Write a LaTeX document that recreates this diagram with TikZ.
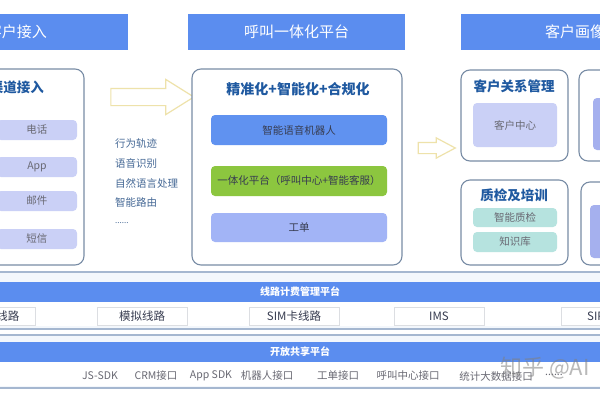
\documentclass[tikz,border=0pt]{standalone}
\usepackage{fontspec}
\setmainfont{Noto Sans CJK SC}
\usetikzlibrary{shapes.arrows}
\definecolor{hdr}{RGB}{91,141,239}
\definecolor{panelc}{RGB}{120,140,165}
\definecolor{ttlc}{RGB}{31,89,160}
\definecolor{purp}{RGB}{202,208,246}
\definecolor{purp2}{RGB}{165,176,238}
\definecolor{midblue}{RGB}{96,146,240}
\definecolor{grn}{RGB}{140,198,63}
\definecolor{gongdan}{RGB}{162,180,246}
\definecolor{teal}{RGB}{182,227,223}
\definecolor{arrc}{RGB}{238,226,170}
\definecolor{listc}{RGB}{70,105,150}
\definecolor{itemtxt}{RGB}{105,105,115}
\definecolor{darktxt}{RGB}{55,60,80}
\definecolor{sepc}{RGB}{165,183,208}
\definecolor{bandbg}{RGB}{243,247,252}
\definecolor{boxc}{RGB}{220,222,226}
\begin{document}
\begin{tikzpicture}[x=1pt,y=-1pt,
  hdrbox/.style={fill=hdr, text=white, inner sep=0, font=\fontsize{15}{15}\selectfont},
  panel/.style={draw=panelc, line width=1.1pt, rounded corners=9pt, fill=white, inner sep=0},
  ttl/.style={text=ttlc, inner sep=0, font=\bfseries\fontsize{13.5}{14}\selectfont},
  item/.style={rounded corners=4pt, inner sep=0, font=\fontsize{10.5}{11}\selectfont},
  litem/.style={item, fill=purp, text=itemtxt, minimum width=80pt, minimum height=20pt},
  listtxt/.style={anchor=west, inner sep=0, text=listc, font=\fontsize{10.5}{11}\selectfont},
  bigarrow/.style={single arrow, draw=arrc, line width=1.2pt, fill=white, inner sep=0},
  bar/.style={fill=hdr, text=white, inner sep=0, minimum width=620pt, minimum height=20pt, font=\bfseries\fontsize{10}{10}\selectfont},
  band/.style={fill=bandbg, inner sep=0, minimum width=620pt},
  lbox/.style={draw=boxc, line width=0.8pt, fill=white, inner sep=0, minimum width=90pt, minimum height=18pt, text=darktxt, font=\fontsize{11.5}{12}\selectfont},
  btxt/.style={inner sep=0, text=itemtxt, font=\fontsize{10.5}{11}\selectfont}
]
\useasboundingbox (0,0) rectangle (600,400);
\clip (0,0) rectangle (600,400);
\fill[white] (0,0) rectangle (600,400);

% headers
\node[hdrbox, minimum width=222pt, minimum height=36pt] (hL) at (17,32) {客户接入};
\node[hdrbox, minimum width=217pt, minimum height=36pt] (hM) at (296.5,32) {呼叫一体化平台};
\node[hdrbox, minimum width=228pt, minimum height=36pt] (hR) at (575,32) {客户画像};

% left panel
\node[panel, minimum width=96pt, minimum height=196pt] (pL) at (36,167) {};
\node[ttl] (tL) at (17,87) {渠道接入};
\node[litem] (l1) at (37,130) {电话};
\node[litem] (l2) at (37,167) {App};
\node[litem] (l3) at (37,201) {邮件};
\node[litem] (l4) at (37,239) {短信};

% big arrow
\node[bigarrow, minimum height=83pt, minimum width=34pt, single arrow head extend=9pt, single arrow tip angle=64] (a1) at (145.5,97) {\rule{0pt}{16pt}};
\node[listtxt] (s1) at (115,144) {行为轨迹};
\node[listtxt] (s2) at (115,163) {语音识别};
\node[listtxt] (s3) at (115,183) {自然语言处理};
\node[listtxt] (s4) at (115,202) {智能路由};
\node[listtxt, font=\fontsize{8}{8}\selectfont] (s5) at (115,223) {......};

% middle panel
\node[panel, minimum width=210pt, minimum height=196pt] (pM) at (297,167) {};
\node[ttl, font=\bfseries\fontsize{14}{14}\selectfont] (tM) at (298,89) {精准化+智能化+合规化};
\node[item, fill=midblue, text=darktxt, minimum width=176pt, minimum height=30pt] (m1) at (299,130) {智能语音机器人};
\node[item, fill=grn, text=darktxt, minimum width=176pt, minimum height=30pt] (m2) at (299,181) {一体化平台（呼叫中心+智能客服）};
\node[item, fill=gongdan, text=darktxt, minimum width=176pt, minimum height=29pt] (m3) at (299,227.5) {工单};

% small arrow
\node[bigarrow, minimum height=37pt, minimum width=19pt, single arrow head extend=4.5pt, single arrow tip angle=56] (a2) at (431.5,148) {\rule{0pt}{10pt}};

% right panels
\node[panel, minimum width=107pt, minimum height=91pt] (pR1) at (514.5,115.5) {};
\node[ttl] (tR1) at (514,86) {客户关系管理};
\node[item, fill=purp, text=itemtxt, minimum width=84pt, minimum height=44pt] (r1) at (515,125) {客户中心};
\node[panel, minimum width=107pt, minimum height=85pt] (pR2) at (514.5,222.5) {};
\node[ttl] (tR2) at (514,195) {质检及培训};
\node[item, fill=teal, text=itemtxt, minimum width=84pt, minimum height=19pt] (r2) at (515,217.5) {智能质检};
\node[item, fill=teal, text=itemtxt, minimum width=84pt, minimum height=20pt] (r3) at (515,242) {知识库};

\node[panel, minimum width=111pt, minimum height=91pt] (pR3) at (634.5,115.5) {};
\node[item, fill=purp2, minimum width=87pt, minimum height=52pt] (r4) at (636.5,124) {};
\node[panel, minimum width=111pt, minimum height=83pt] (pR4) at (636.5,223.5) {};
\node[item, fill=purp2, minimum width=87pt, minimum height=53pt] (r5) at (633.5,231.5) {};

% band 1
\node[band, minimum height=57pt] (b1) at (300,300.5) {};
\draw[sepc, line width=1.6pt] (b1.north west) -- (b1.north east);
\draw[sepc, line width=1.6pt] (b1.south west) -- (b1.south east);
\node[bar] (bar1) at (300,292) {线路计费管理平台};
\fill[white] (-10,302) rectangle (610,326);
\node[lbox, minimum width=95pt] (k0) at (-12,316) {};
\node[inner sep=0, text=darktxt, font=\fontsize{11.5}{12}\selectfont] (k0t) at (8,316) {线路};
\node[lbox] (k1) at (142,316) {模拟线路};
\node[lbox] (k2) at (294,316) {SIM卡线路};
\node[lbox] (k3) at (439,316) {IMS};
\node[lbox] (k4) at (606,316) {};
\node[inner sep=0, anchor=west, text=darktxt, font=\fontsize{11.5}{12}\selectfont] (k4t) at (587,316) {SIP};

% band 2
\node[band, minimum height=53pt] (b2) at (300,361.5) {};
\draw[sepc, line width=1.6pt] (b2.north west) -- (b2.north east);
\draw[sepc, line width=1.6pt] (b2.south west) -- (b2.south east);
\node[bar] (bar2) at (300,352) {开放共享平台};
\fill[white] (-10,362) rectangle (610,386);
\node[btxt] (o1) at (100,376) {JS-SDK};
\node[btxt] (o2) at (156,376) {CRM接口};
\node[btxt] (o3) at (211,376) {App SDK};
\node[btxt] (o4) at (267,376) {机器人接口};
\node[btxt] (o5) at (338,376) {工单接口};
\node[btxt] (o6) at (408,376) {呼叫中心接口};
\node[btxt] (o7) at (496,376) {统计大数据接口};
\node[btxt] (o8) at (554,375) {......};

% watermark
\node[anchor=west, inner sep=0, text=gray, opacity=0.55, font=\fontsize{22}{22}\selectfont] (wm) at (500,368) {知乎 @AI};
\end{tikzpicture}
\end{document}
